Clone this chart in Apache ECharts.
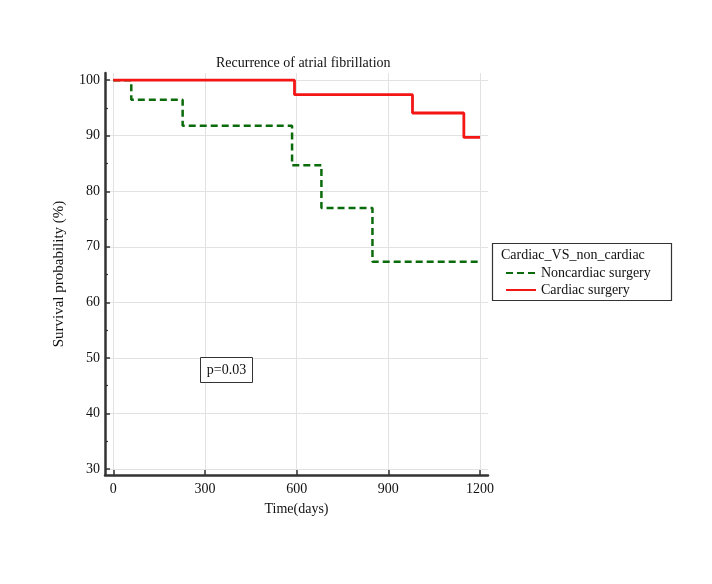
<!DOCTYPE html>
<html>
<head>
<meta charset="utf-8">
<script src="https://cdn.jsdelivr.net/npm/echarts@6/dist/echarts.min.js"></script>
<style>
  html, body { margin: 0; padding: 0; background: #fff; }
  #main { width: 712px; height: 584px; }
</style>
</head>
<body>
<div id="main"></div>
<script>
// survival curves (days, %)
var nonCardiacDays = [0, 59, 227, 585, 681, 848, 1200]
var nonCardiacSurv = [100, 96.5, 91.8, 84.7, 77.0, 67.3, 67.3]
var cardiacDays = [0, 593, 979, 1147, 1200]
var cardiacSurv = [100, 97.4, 94.1, 89.7, 89.7]
var xTicks = [0, 300, 600, 900, 1200]
var yTicks = [30, 40, 50, 60, 70, 80, 90, 100]
var yMinorTicks = [35, 45, 55, 65, 75, 85, 95]

var font = "'Liberation Serif', 'Times New Roman', serif"

function pairs(xs, ys) {
  return xs.map(function (x, i) { return [x, ys[i]] })
}

var chart = echarts.init(document.getElementById('main'))
chart.setOption({
  backgroundColor: '#fff',
  animation: false,
  textStyle: { fontFamily: font },
  title: {
    text: 'Recurrence of atrial fibrillation',
    left: 211,
    top: 51,
    textStyle: { fontFamily: font, fontSize: 14, fontWeight: 'normal', color: '#111' }
  },
  grid: { left: 105, right: 224, top: 73, bottom: 109 },
  xAxis: {
    type: 'value',
    min: -27,
    max: 1226,
    name: 'Time(days)',
    nameLocation: 'middle',
    nameGap: 27,
    nameTextStyle: { fontFamily: font, fontSize: 14, color: '#111' },
    axisLine: { onZero: false, lineStyle: { color: '#333', width: 2.5 } },
    axisTick: { customValues: xTicks, inside: true, length: 5, lineStyle: { color: '#333', width: 1.5 } },
    axisLabel: {
      customValues: xTicks, fontFamily: font, fontSize: 14, color: '#111', margin: 7,
      formatter: function (v) { return String(v) }
    },
    splitLine: { show: true, lineStyle: { color: '#e2e2e2' } }
  },
  yAxis: [
    {
      type: 'value',
      min: 28.9,
      max: 101.3,
      name: 'Survival probability (%)',
      nameLocation: 'middle',
      nameGap: 38,
      nameTextStyle: { fontFamily: font, fontSize: 15, color: '#111' },
      axisLine: { show: true, onZero: false, lineStyle: { color: '#333', width: 2.5 } },
      axisTick: { show: true, customValues: yTicks, inside: true, length: 5, lineStyle: { color: '#333', width: 1.5 } },
      axisLabel: { customValues: yTicks, fontFamily: font, fontSize: 14, color: '#111', margin: 5 },
      splitLine: { show: true, lineStyle: { color: '#e2e2e2' } }
    },
    {
      // only carries the short in-between ticks
      type: 'value',
      position: 'left',
      min: 28.9,
      max: 101.3,
      axisLine: { show: false, onZero: false },
      axisTick: { show: true, customValues: yMinorTicks, inside: true, length: 3, lineStyle: { color: '#333', width: 1.2 } },
      axisLabel: { show: false },
      splitLine: { show: false }
    }
  ],
  legend: {
    orient: 'vertical',
    left: 500,
    top: 261,
    itemWidth: 30,
    itemHeight: 14,
    itemGap: 3,
    itemStyle: { opacity: 0 },
    textStyle: { fontFamily: font, fontSize: 14, color: '#111' },
    data: ['Noncardiac surgery', 'Cardiac surgery']
  },
  graphic: [
    {
      type: 'rect',
      shape: { x: 492.5, y: 243.5, width: 179, height: 57 },
      style: { fill: 'none', stroke: '#333', lineWidth: 1.2 },
      z: 100
    },
    {
      type: 'text',
      left: 501,
      top: 248,
      style: { text: 'Cardiac_VS_non_cardiac', font: '14px ' + font, fill: '#111' },
      z: 100
    },
    {
      type: 'rect',
      shape: { x: 200.5, y: 357.5, width: 52, height: 25 },
      style: { fill: '#fff', stroke: '#333', lineWidth: 1 },
      z: 100
    },
    {
      type: 'text',
      x: 226.5,
      y: 370,
      style: { text: 'p=0.03', font: '14px ' + font, fill: '#111', align: 'center', verticalAlign: 'middle' },
      z: 101
    }
  ],
  series: [
    {
      name: 'Noncardiac surgery',
      type: 'line',
      step: 'end',
      symbol: 'none',
      data: pairs(nonCardiacDays, nonCardiacSurv),
      itemStyle: { color: '#0a6b0a' },
      lineStyle: { color: '#0a6b0a', width: 2.5, type: [7, 4] }
    },
    {
      name: 'Cardiac surgery',
      type: 'line',
      step: 'end',
      symbol: 'none',
      data: pairs(cardiacDays, cardiacSurv),
      itemStyle: { color: '#f41515' },
      lineStyle: { color: '#f41515', width: 2.8 }
    }
  ]
})
</script>
</body>
</html>
